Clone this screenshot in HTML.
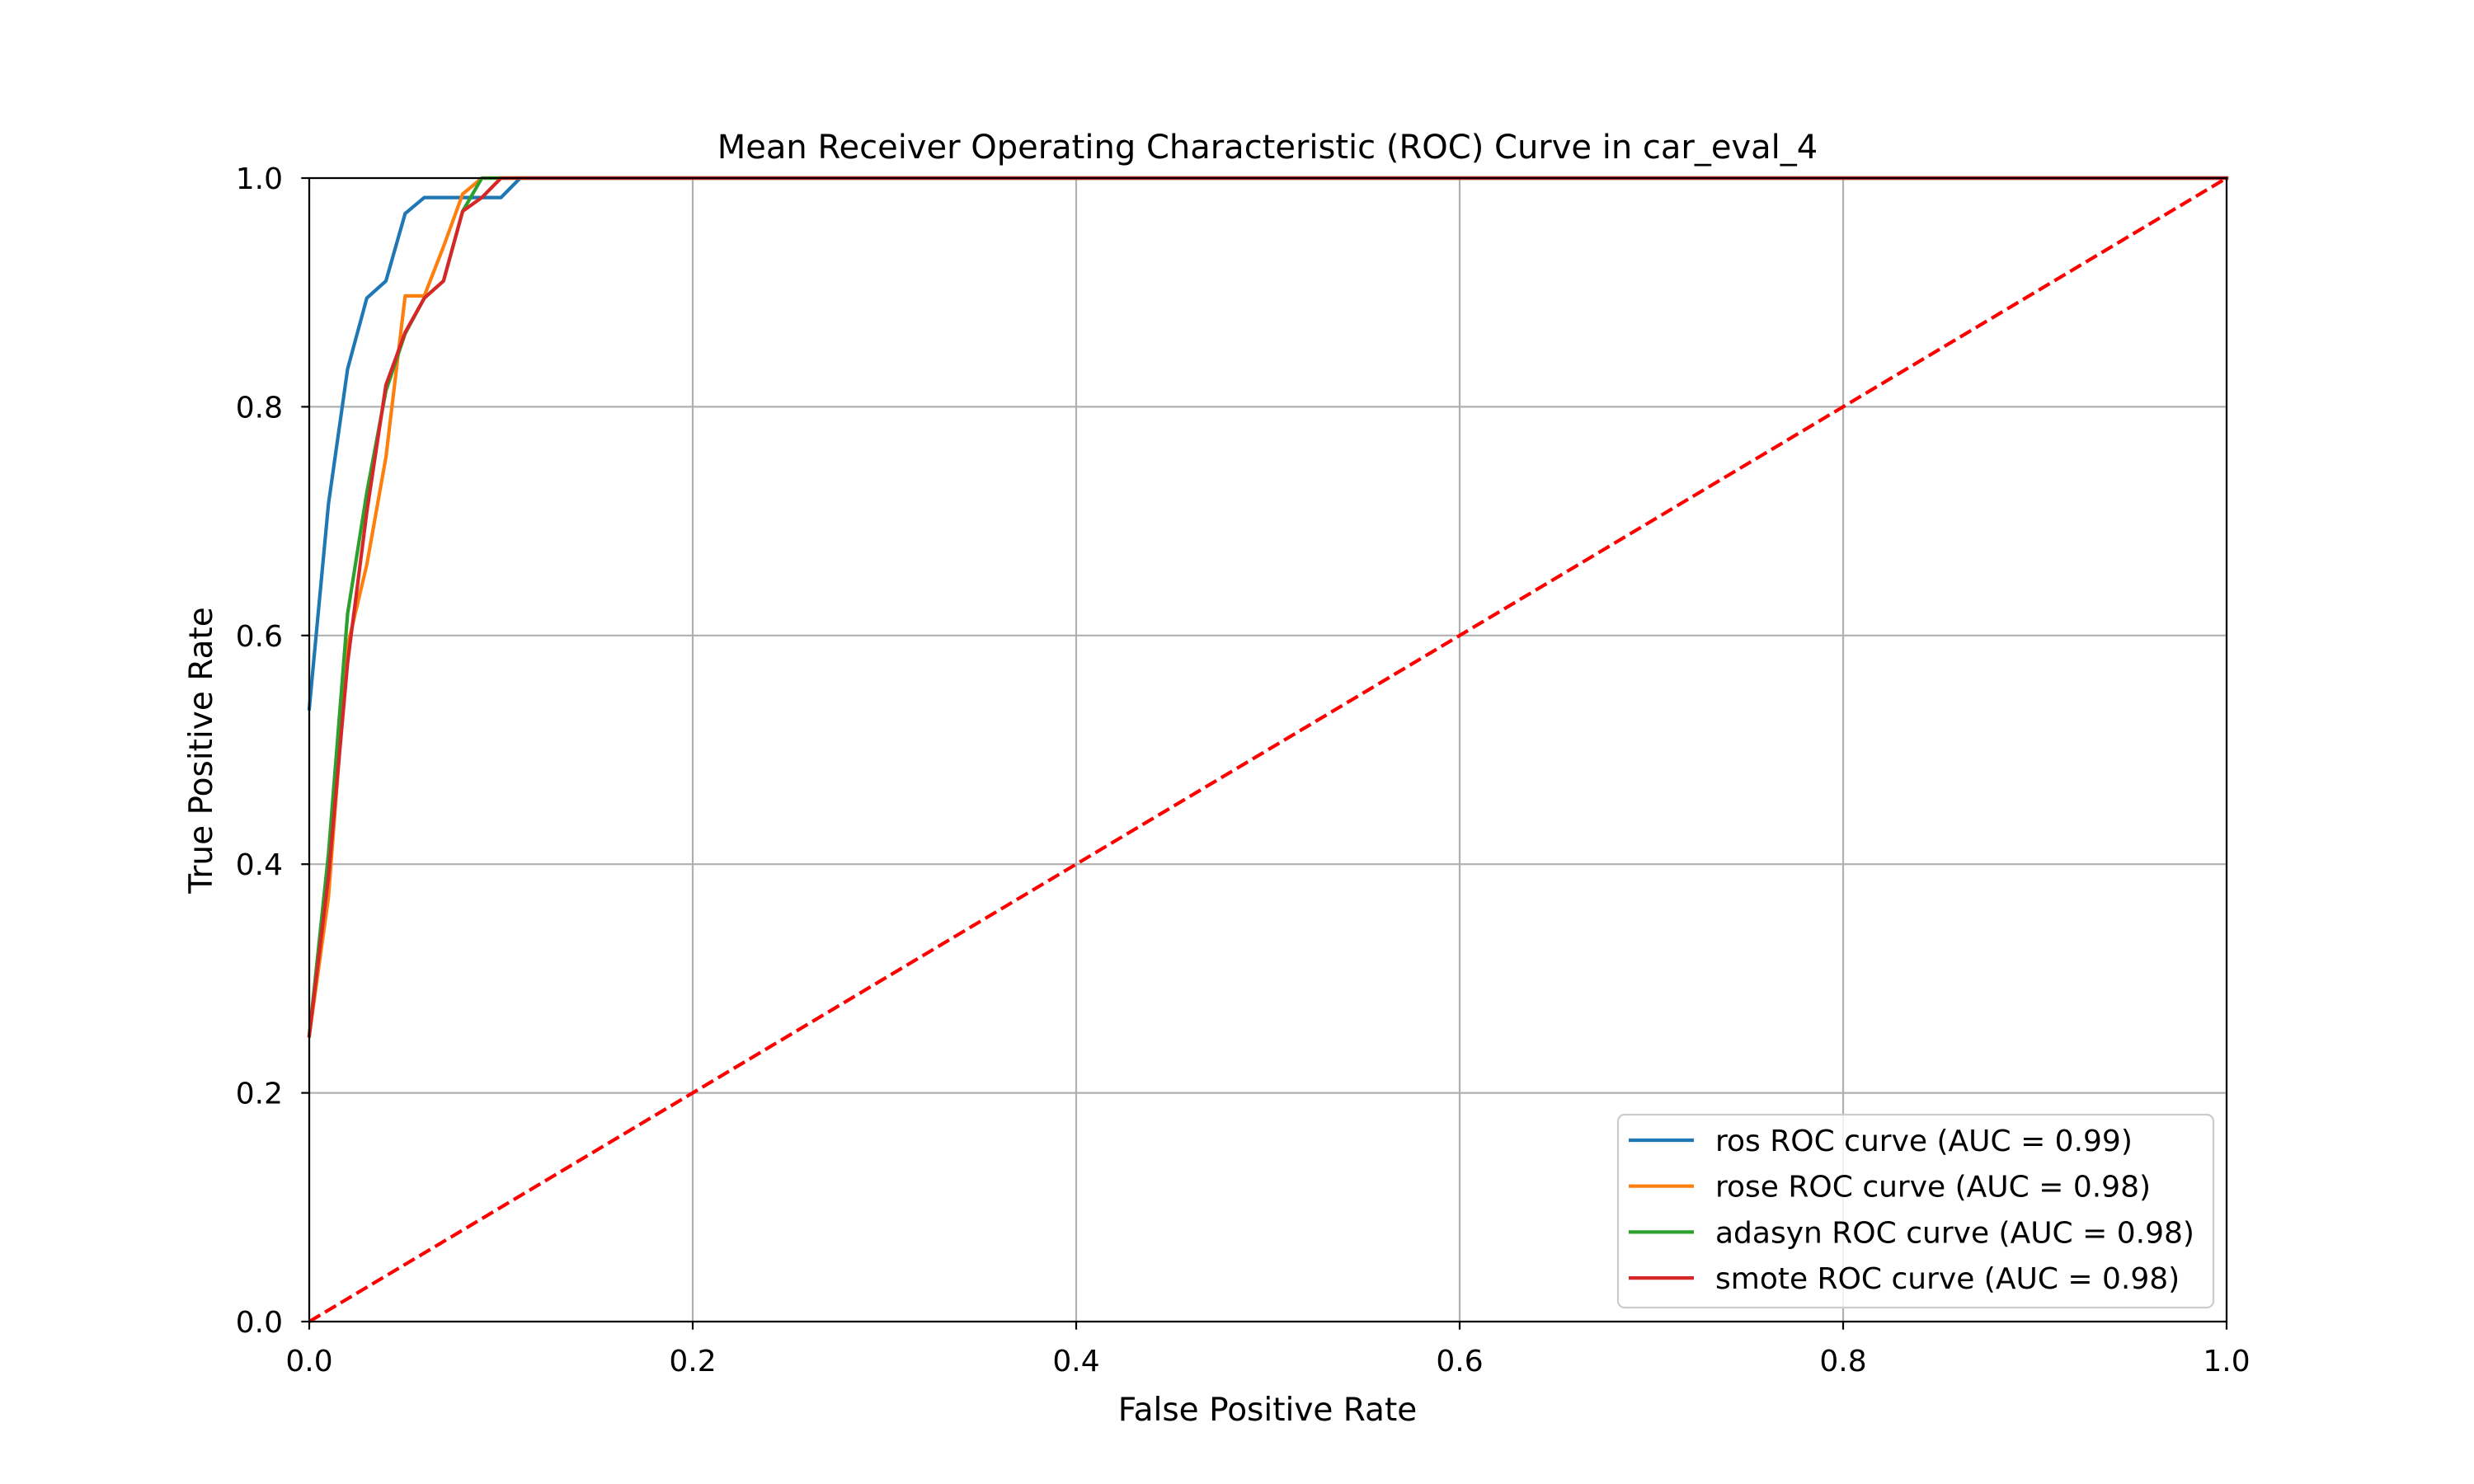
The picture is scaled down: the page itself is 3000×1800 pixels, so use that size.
<!DOCTYPE html>
<html><head><meta charset="utf-8"><style>
html,body{margin:0;padding:0;background:#fff;}
svg{display:block;font-family:"DejaVu Sans","Liberation Sans",sans-serif;}
</style></head><body>
<svg id="chart" width="3000" height="1800" viewBox="0 0 3000 1800">
<rect width="3000" height="1800" fill="#fff"/>
<g id="grid"></g>
<g id="series"></g>
<g id="axes"></g>
<text x="1537" y="192" font-size="40" text-anchor="middle">Mean Receiver Operating Characteristic (ROC) Curve in car_eval_4</text>
<text x="1537" y="1723" font-size="39" text-anchor="middle">False Positive Rate</text>
<text x="0" y="0" font-size="39" text-anchor="middle" transform="translate(257,910) rotate(-90)">True Positive Rate</text>
<g id="legend"></g>
</svg>
<script>
const xTicks = [0, 0.2, 0.4, 0.6, 0.8, 1.0];
const yTicks = [0, 0.2, 0.4, 0.6, 0.8, 1.0];
const tickLabels = ["0.0", "0.2", "0.4", "0.6", "0.8", "1.0"];
const seriesNames = ["ros", "rose", "adasyn", "smote"];
const seriesColors = ["#1f77b4", "#ff7f0e", "#2ca02c", "#d62728"];
const aucValues = ["0.99", "0.98", "0.98", "0.98"];
const rosFpr = [0, 0.01, 0.02, 0.03, 0.04, 0.05, 0.06, 0.07, 0.08, 0.09, 0.10, 0.11, 1];
const rosTpr = [0.536, 0.715, 0.833, 0.895, 0.910, 0.969, 0.983, 0.983, 0.983, 0.983, 0.983, 1.0, 1.0];
const roseFpr = [0, 0.01, 0.02, 0.03, 0.04, 0.05, 0.06, 0.07, 0.08, 0.09, 1];
const roseTpr = [0.25, 0.371, 0.591, 0.662, 0.756, 0.897, 0.897, 0.940, 0.986, 1.0, 1.0];
const adasynFpr = [0, 0.01, 0.02, 0.03, 0.04, 0.05, 0.06, 0.07, 0.08, 0.09, 1];
const adasynTpr = [0.25, 0.409, 0.619, 0.725, 0.814, 0.864, 0.895, 0.910, 0.971, 1.0, 1.0];
const smoteFpr = [0, 0.01, 0.02, 0.03, 0.04, 0.05, 0.06, 0.07, 0.08, 0.09, 0.10, 1];
const smoteTpr = [0.25, 0.389, 0.576, 0.708, 0.819, 0.865, 0.895, 0.910, 0.971, 0.983, 1.0, 1.0];
const diagX = [0, 1];
const diagY = [0, 1];

const NS = "http://www.w3.org/2000/svg";
const L = 375, R = 2700, T = 216, B = 1603;
const sx = v => L + v * (R - L);
const sy = v => B - v * (B - T);
function mk(tag, attrs, parent) {
  const e = document.createElementNS(NS, tag);
  for (const k in attrs) e.setAttribute(k, attrs[k]);
  parent.appendChild(e);
  return e;
}
const grid = document.getElementById('grid');
const axes = document.getElementById('axes');
const series = document.getElementById('series');
const legend = document.getElementById('legend');

xTicks.forEach((t, i) => {
  const g = mk('line', {x1: sx(t), x2: sx(t), y1: T, y2: B, stroke: '#b0b0b0', 'stroke-width': 2.2}, grid);
  
  
  const tk = mk('line', {x1: sx(t), x2: sx(t), y1: B, y2: B + 9.7, stroke: '#000', 'stroke-width': 2.2}, axes);
  
  
  const lb = mk('text', {x: sx(t), y: B + 60, 'font-size': 36, 'text-anchor': 'middle'}, axes);
  lb.textContent = tickLabels[i];
  
  
});
yTicks.forEach((t, i) => {
  const g = mk('line', {x1: L, x2: R, y1: sy(t), y2: sy(t), stroke: '#b0b0b0', 'stroke-width': 2.2}, grid);
  
  
  const tk = mk('line', {x1: L - 9.7, x2: L, y1: sy(t), y2: sy(t), stroke: '#000', 'stroke-width': 2.2}, axes);
  
  
  const lb = mk('text', {x: 343, y: sy(t) + 13, 'font-size': 36, 'text-anchor': 'end'}, axes);
  lb.textContent = tickLabels[i];
  
  
});
const frame = mk('rect', {x: L, y: T, width: R - L, height: B - T, fill: 'none', stroke: '#000', 'stroke-width': 2.2}, axes);



const allX = [rosFpr, roseFpr, adasynFpr, smoteFpr];
const allY = [rosTpr, roseTpr, adasynTpr, smoteTpr];
allX.forEach((xs, i) => {
  const pts = xs.map((x, j) => sx(x).toFixed(1) + ',' + sy(allY[i][j]).toFixed(1)).join(' ');
  const pl = mk('polyline', {points: pts, fill: 'none', stroke: seriesColors[i], 'stroke-width': 4.2, 'stroke-linejoin': 'round', 'stroke-linecap': 'square'}, series);
  
  
});
const diag = mk('line', {x1: sx(diagX[0]), y1: sy(diagY[0]), x2: sx(diagX[1]), y2: sy(diagY[1]), stroke: '#ff0000', 'stroke-width': 4.2, 'stroke-dasharray': '15.5,6.7'}, series);



const box = mk('rect', {x: 1962, y: 1352, width: 722, height: 234, rx: 8, fill: '#fff', 'fill-opacity': 0.8, stroke: '#cccccc', 'stroke-width': 2.2}, legend);


seriesNames.forEach((n, i) => {
  const y = 1383 + i * 55.7;
  const ln = mk('line', {x1: 1975, x2: 2054, y1: y, y2: y, stroke: seriesColors[i], 'stroke-width': 4.2}, legend);
  
  
  const tx = mk('text', {x: 2080, y: y + 13, 'font-size': 36}, legend);
  tx.textContent = n + ' ROC curve (AUC = ' + aucValues[i] + ')';
  
  
});
</script>
</body></html>
